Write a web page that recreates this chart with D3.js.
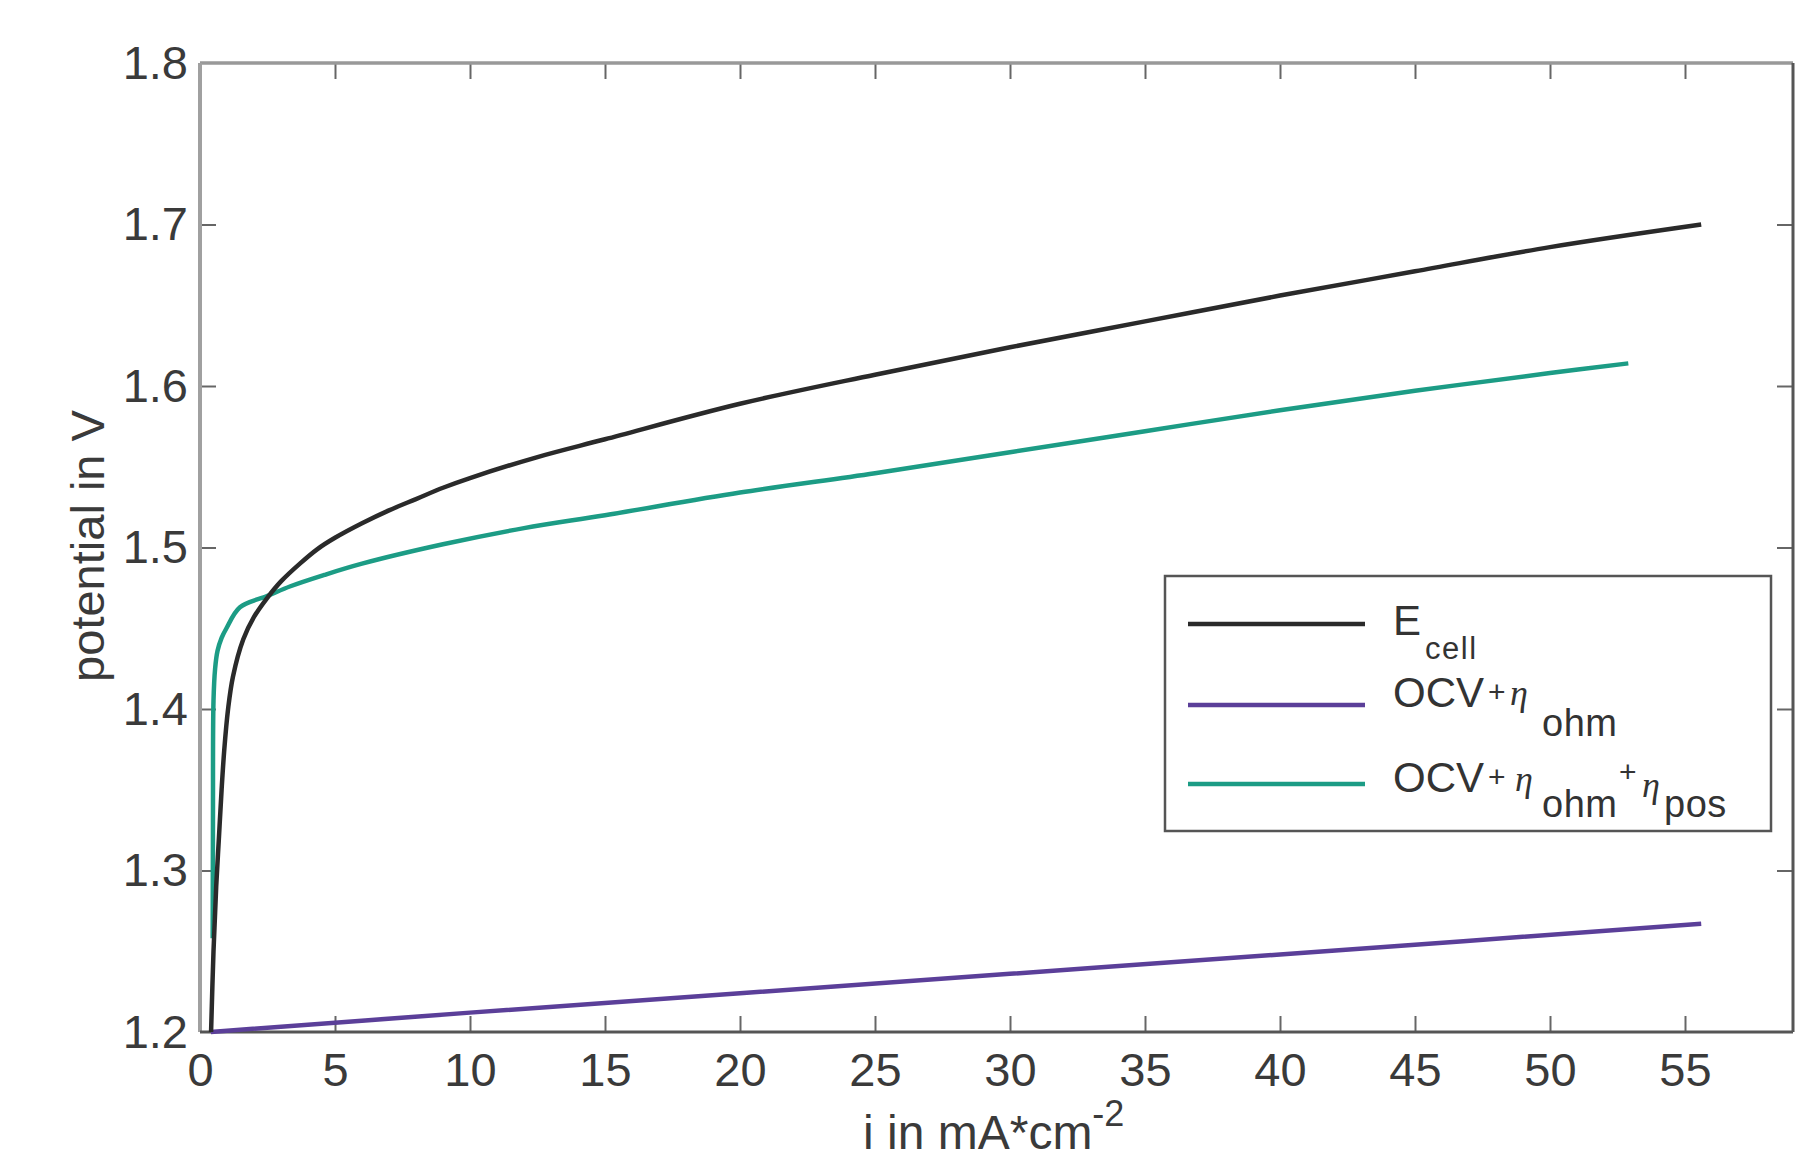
<!DOCTYPE html>
<html><head><meta charset="utf-8">
<script src="https://cdn.jsdelivr.net/npm/d3@7"></script>
<style>
body{margin:0;background:#fff}
svg{display:block}
text{font-family:"Liberation Sans",Arial,Helvetica,sans-serif}
</style>
</head><body>
<svg id="chart" width="1814" height="1161"></svg>
<script>
// ---- data ----
const xTicks = [0, 5, 10, 15, 20, 25, 30, 35, 40, 45, 50, 55];
const yTicks = [1.2, 1.3, 1.4, 1.5, 1.6, 1.7, 1.8];
const xDomain = [0, 59];
const yDomain = [1.2, 1.8];

// E_cell (black)
const ecellX = [0.41, 0.5, 0.6, 0.7, 0.8, 0.9, 1.04, 1.22, 1.6, 2.0, 2.5, 3.0, 3.7, 4.35, 5, 6, 7, 8, 9, 10, 12.5, 15, 20, 25, 30, 35, 40, 45, 50, 55.6];
const ecellY = [1.20, 1.25, 1.29, 1.32, 1.35, 1.375, 1.40, 1.42, 1.443, 1.457, 1.469, 1.479, 1.490, 1.499, 1.506, 1.515, 1.523, 1.530, 1.537, 1.543, 1.556, 1.567, 1.589, 1.607, 1.624, 1.640, 1.656, 1.671, 1.686, 1.700];

// OCV + eta_ohm (purple)
const ohmX = [0.4, 10, 20, 30, 40, 55.6];
const ohmY = [1.200, 1.212, 1.224, 1.236, 1.248, 1.267];

// OCV + eta_ohm + eta_pos (teal)
const posX = [0.47, 0.48, 0.5, 0.56, 0.65, 0.8, 0.98, 1.48, 2.5, 3.35, 4.6, 6.0, 9.0, 12, 15, 20, 25, 30, 35, 40, 45, 50, 52.9];
const posY = [1.258, 1.33, 1.405, 1.425, 1.436, 1.444, 1.45, 1.463, 1.470, 1.476, 1.483, 1.490, 1.502, 1.512, 1.520, 1.534, 1.546, 1.559, 1.572, 1.585, 1.597, 1.608, 1.614];

const seriesColors = ["#2a2a2a", "#5b3f99", "#1c9c85"];

// ---- layout ----
const svg = d3.select("#chart");
const L = 200, R = 1793, T = 63, B = 1032;
const x = d3.scaleLinear().domain(xDomain).range([L, R]);
const y = d3.scaleLinear().domain(yDomain).range([B, T]);

const fmtY = d3.format(".1f");

// axes
const gB = svg.append("g").attr("transform", `translate(0,${B})`)
  .call(d3.axisBottom(x).tickValues(xTicks).tickSize(-16).tickPadding(21).tickFormat(d3.format("d")));
const gL = svg.append("g").attr("transform", `translate(${L},0)`)
  .call(d3.axisLeft(y).tickValues(yTicks).tickSize(-16).tickPadding(12).tickFormat(fmtY));
const gT = svg.append("g").attr("transform", `translate(0,${T})`)
  .call(d3.axisTop(x).tickValues(xTicks).tickSize(-16).tickFormat(""));
const gR = svg.append("g").attr("transform", `translate(${R},0)`)
  .call(d3.axisRight(y).tickValues(yTicks).tickSize(-16).tickFormat(""));

[gB, gL, gT, gR].forEach(g => {
  g.select(".domain").remove();
  g.selectAll(".tick line").attr("stroke", "#666").attr("stroke-width", 2);
  g.selectAll(".tick text").attr("fill", "#3a3a3a").attr("font-size", 47)
    .attr("font-family", "'Liberation Sans', Arial, sans-serif");
});
gB.selectAll(".tick").filter(d => d === 0).select("line").remove();
gT.selectAll(".tick").filter(d => d === 0).select("line").remove();
gL.selectAll(".tick").filter(d => d === 1.2 || d === 1.8).select("line").remove();
gR.selectAll(".tick").filter(d => d === 1.2 || d === 1.8).select("line").remove();

// frame
svg.append("line").attr("x1", L).attr("x2", R).attr("y1", T).attr("y2", T)
  .attr("stroke", "#999").attr("stroke-width", 3.5);
svg.append("line").attr("x1", L).attr("x2", L).attr("y1", T).attr("y2", B)
  .attr("stroke", "#a0a0a0").attr("stroke-width", 4);
svg.append("line").attr("x1", L).attr("x2", R).attr("y1", B).attr("y2", B)
  .attr("stroke", "#555").attr("stroke-width", 3);
svg.append("line").attr("x1", R).attr("x2", R).attr("y1", T).attr("y2", B)
  .attr("stroke", "#555").attr("stroke-width", 3);

// curves
const line = d3.line().x(d => x(d[0])).y(d => y(d[1])).curve(d3.curveCatmullRom.alpha(0.5));
const zip = (a, b) => a.map((v, i) => [v, b[i]]);
const series = [zip(ohmX, ohmY), zip(posX, posY), zip(ecellX, ecellY)];
const colorsOrdered = [seriesColors[1], seriesColors[2], seriesColors[0]];
series.forEach((s, i) => {
  svg.append("path").datum(s).attr("d", line).attr("fill", "none")
    .attr("stroke", colorsOrdered[i]).attr("stroke-width", 4.5)
    .attr("stroke-linejoin", "round").attr("stroke-linecap", "butt");
});

// axis labels
svg.append("text").attr("transform", "translate(104,546) rotate(-90)")
  .attr("text-anchor", "middle").attr("font-size", 47).attr("fill", "#3a3a3a")
  .text("potential in V");
const xl = svg.append("text").attr("x", 863).attr("y", 1149).attr("font-size", 48).attr("fill", "#3a3a3a");
xl.append("tspan").text("i in mA*cm");
xl.append("tspan").attr("font-size", 36).attr("dy", -23).text("-2");

// legend
svg.append("rect").attr("x", 1165).attr("y", 576).attr("width", 606).attr("height", 255)
  .attr("fill", "#fff").attr("stroke", "#555").attr("stroke-width", 2.5);
const legY = [624, 705, 784];
legY.forEach((ly, i) => {
  svg.append("line").attr("x1", 1188).attr("x2", 1365).attr("y1", ly).attr("y2", ly)
    .attr("stroke", seriesColors[i]).attr("stroke-width", 4.5);
});
const tcol = "#333";
const etaFont = "'Liberation Serif', 'DejaVu Serif', serif";
// row 1
const t1 = svg.append("text").attr("fill", tcol);
t1.append("tspan").attr("x", 1393).attr("y", 635).attr("font-size", 42).text("E");
t1.append("tspan").attr("x", 1425).attr("y", 659).attr("font-size", 31).attr("letter-spacing", 1.5).text("cell");
// row 2
const t2 = svg.append("text").attr("fill", tcol);
t2.append("tspan").attr("x", 1393).attr("y", 707).attr("font-size", 42).text("OCV");
t2.append("tspan").attr("x", 1488).attr("y", 702).attr("font-size", 30).text("+");
t2.append("tspan").attr("x", 1510).attr("y", 705).attr("font-size", 36).attr("font-style", "italic").attr("font-family", etaFont).text("η");
t2.append("tspan").attr("x", 1542).attr("y", 736).attr("font-size", 38).attr("letter-spacing", 0.5).text("ohm");
// row 3
const t3 = svg.append("text").attr("fill", tcol);
t3.append("tspan").attr("x", 1393).attr("y", 792).attr("font-size", 42).text("OCV");
t3.append("tspan").attr("x", 1488).attr("y", 787).attr("font-size", 30).text("+");
t3.append("tspan").attr("x", 1515).attr("y", 791).attr("font-size", 36).attr("font-style", "italic").attr("font-family", etaFont).text("η");
t3.append("tspan").attr("x", 1542).attr("y", 817).attr("font-size", 38).attr("letter-spacing", 0.5).text("ohm");
t3.append("tspan").attr("x", 1619).attr("y", 782).attr("font-size", 30).text("+");
t3.append("tspan").attr("x", 1642).attr("y", 797).attr("font-size", 36).attr("font-style", "italic").attr("font-family", etaFont).text("η");
t3.append("tspan").attr("x", 1664).attr("y", 817).attr("font-size", 38).attr("letter-spacing", 0.5).text("pos");
</script>
</body></html>
